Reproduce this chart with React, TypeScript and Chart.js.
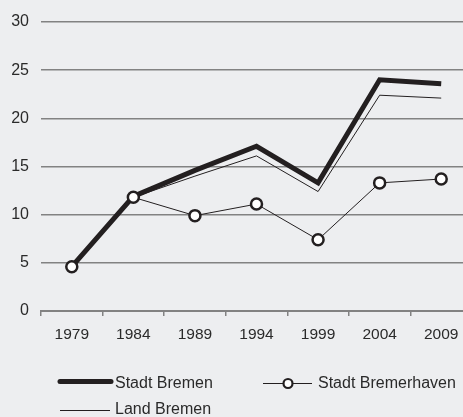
import React, { useEffect, useRef } from "react";
import { Chart, registerables } from "chart.js";

Chart.register(...registerables);

const years = ["1979", "1984", "1989", "1994", "1999", "2004", "2009"];
const stadtBremen = [4.6, 11.9, 14.6, 17.1, 13.3, 24.0, 23.6];
const stadtBremerhaven = [4.6, 11.8, 9.9, 11.1, 7.4, 13.3, 13.7];
const landBremen = [4.6, 11.8, 14.0, 16.1, 12.4, 22.4, 22.1];
const yTicks = [0, 5, 10, 15, 20, 25, 30];

const INK = "#231f20";
const GRID = "#828282";
const TEXT = "#2a2a2a";
const FONT = '"Liberation Sans", Arial, sans-serif';

const legendPlugin = {
  id: "customLegend",
  afterDraw(chart: any) {
    const ctx = chart.ctx;
    ctx.save();
    ctx.fillStyle = TEXT;
    ctx.font = `16px ${FONT}`;
    ctx.textBaseline = "middle";
    ctx.textAlign = "left";
    // Stadt Bremen
    ctx.strokeStyle = INK;
    ctx.lineCap = "round";
    ctx.lineWidth = 5;
    ctx.beginPath();
    ctx.moveTo(60, 381.5);
    ctx.lineTo(111, 381.5);
    ctx.stroke();
    ctx.fillText(chart.data.datasets[0].label, 115, 383.5);
    // Stadt Bremerhaven
    ctx.lineCap = "butt";
    ctx.lineWidth = 1;
    ctx.beginPath();
    ctx.moveTo(263, 383.5);
    ctx.lineTo(312, 383.5);
    ctx.stroke();
    ctx.beginPath();
    ctx.arc(288, 383.5, 4.5, 0, Math.PI * 2);
    ctx.fillStyle = "#ffffff";
    ctx.fill();
    ctx.lineWidth = 2.2;
    ctx.stroke();
    ctx.fillStyle = TEXT;
    ctx.fillText(chart.data.datasets[1].label, 318, 383.5);
    // Land Bremen
    ctx.lineWidth = 1;
    ctx.beginPath();
    ctx.moveTo(60, 410.5);
    ctx.lineTo(110, 410.5);
    ctx.stroke();
    ctx.fillText(chart.data.datasets[2].label, 115, 410);
    ctx.restore();
  },
};

export default function App() {
  const ref = useRef<HTMLCanvasElement | null>(null);
  useEffect(() => {
    if (!ref.current) return;
    const chart = new Chart(ref.current, {
      type: "line",
      data: {
        labels: years,
        datasets: [
          {
            label: "Stadt Bremen",
            data: stadtBremen,
            borderColor: INK,
            borderWidth: 5,
            borderJoinStyle: "miter",
            pointRadius: 0,
            fill: false,
            order: 1,
          },
          {
            label: "Stadt Bremerhaven",
            data: stadtBremerhaven,
            borderColor: INK,
            borderWidth: 1,
            pointRadius: 5.5,
            pointBorderWidth: 2.5,
            pointBackgroundColor: "#ffffff",
            pointBorderColor: INK,
            fill: false,
            order: 0,
          },
          {
            label: "Land Bremen",
            data: landBremen,
            borderColor: INK,
            borderWidth: 1,
            pointRadius: 0,
            fill: false,
            order: 2,
          },
        ],
      },
      options: {
        responsive: false,
        animation: false,
        layout: { padding: { top: 22, right: 7, left: 0, bottom: 0 } },
        plugins: { legend: { display: false }, tooltip: { enabled: false } },
        scales: {
          x: {
            offset: true,
            grid: {
              display: true,
              drawOnChartArea: false,
              drawTicks: true,
              tickLength: 5,
              color: GRID,
              lineWidth: 1.5,
              offset: true,
            },
            border: { display: true, color: GRID, width: 2 },
            ticks: { color: TEXT, font: { family: FONT, size: 15.5 }, padding: 9, maxRotation: 0 },
            afterFit: (s: any) => {
              s.height = 106;
            },
          },
          y: {
            min: 0,
            max: 30,
            afterBuildTicks: (s: any) => {
              s.ticks = yTicks.map((v) => ({ value: v }));
            },
            grid: { color: GRID, lineWidth: 1.5, drawTicks: false },
            border: { display: false },
            ticks: { color: TEXT, font: { family: FONT, size: 16 }, padding: 12 },
            afterFit: (s: any) => {
              s.width = 41;
            },
          },
        },
      },
      plugins: [legendPlugin],
    });
    return () => chart.destroy();
  }, []);
  return (
    <div
      style={{
        position: "fixed",
        left: 0,
        top: 0,
        width: 463,
        height: 417,
        overflow: "hidden",
        background: "#edeef0",
      }}
    >
      <canvas ref={ref} width={480} height={417} style={{ width: 480, height: 417, display: "block" }} />
    </div>
  );
}
